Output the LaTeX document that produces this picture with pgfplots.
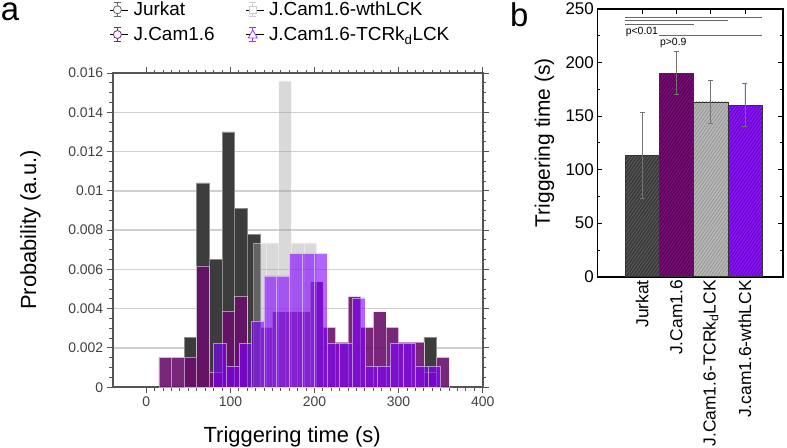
\documentclass[border=0pt]{standalone}
\usepackage{pgfplots}
\pgfplotsset{compat=1.18}
\usepackage{fontspec}
\setmainfont{Liberation Sans}
\usetikzlibrary{patterns.meta}
\definecolor{jur}{HTML}{3C3C3C}
\definecolor{jcam}{HTML}{6A0F6A}
\definecolor{wth}{HTML}{A0A0A0}
\definecolor{tcr}{HTML}{8000FF}
\definecolor{frm}{HTML}{555555}
\definecolor{gridc}{HTML}{CFCFCF}
\definecolor{bJur}{HTML}{3A3A3A}
\definecolor{bJcam}{HTML}{7A0A78}
\definecolor{bGray}{HTML}{B8B8B8}
\definecolor{bVio}{HTML}{8A10FF}
\pgfplotsset{
  errcirc/.style={legend image code/.code={%
    \path (-7bp,0bp) -- (11bp,0bp);
    \draw[color=#1,line width=0.8bp] (0bp,-7bp)--(0bp,7bp) (-3.5bp,7bp)--(3.5bp,7bp) (-3.5bp,-7bp)--(3.5bp,-7bp);
    \draw[color=#1,line width=0.8bp,fill=white] (0bp,0bp) circle (4bp);}},
  errsq/.style={legend image code/.code={%
    \path (-7bp,0bp) -- (11bp,0bp);
    \draw[color=#1,line width=0.8bp] (0bp,-7bp)--(0bp,7bp) (-3.5bp,7bp)--(3.5bp,7bp) (-3.5bp,-7bp)--(3.5bp,-7bp);
    \draw[color=#1,line width=0.8bp,fill=white] (-3.5bp,-3.5bp) rectangle (3.5bp,3.5bp);}},
  errtri/.style={legend image code/.code={%
    \path (-7bp,0bp) -- (11bp,0bp);
    \draw[color=#1,line width=0.8bp] (0bp,-7bp)--(0bp,7bp) (-3.5bp,7bp)--(3.5bp,7bp) (-3.5bp,-7bp)--(3.5bp,-7bp);
    \draw[color=#1,line width=0.8bp,fill=white] (-4.5bp,-3.5bp)--(4.5bp,-3.5bp)--(0bp,4.5bp)--cycle;}},
}
\begin{document}
\begin{tikzpicture}
\useasboundingbox (0bp,0bp) rectangle (787bp,-448bp);
\node[anchor=base west, inner sep=0pt, font=\fontsize{33}{33}\selectfont] at (0.8bp,-20bp) {a};
\node[anchor=base west, inner sep=0pt, font=\fontsize{33}{33}\selectfont] at (510bp,-26.5bp) {b};
\begin{axis}[
  at={(112.7bp,-387.2bp)}, anchor=south west, scale only axis,
  width=370bp, height=314.2bp,
  xmin=-40, xmax=400, ymin=0, ymax=0.016,
  axis line style={draw=frm, line width=1.8bp},
  tick style={draw=frm, line width=1bp},
  tick align=outside, major tick length=6bp, minor tick length=3.5bp,
  xtick={0,100,...,400}, minor x tick num=9,
  ytick={0,0.002,0.004,0.006,0.008,0.01,0.012,0.014,0.016},
  yticklabels={0,0.002,0.004,0.006,0.008,0.01,0.012,0.014,0.016},
  minor y tick num=3,
  scaled y ticks=false,
  ymajorgrids, grid style={draw=gridc, line width=1.4bp},
  tick label style={font=\fontsize{14}{14}\selectfont, text=black!75},
  /pgf/number format/assume math mode=true,
  xlabel={Triggering time (s)}, ylabel={Probability (a.u.)},
  label style={font=\fontsize{22}{22}\selectfont},
  xlabel style={at={(axis description cs:0.485,-0.158)}, anchor=center},
  ylabel style={at={(axis description cs:-0.222,0.5)}, anchor=center},
  legend columns=2, legend cell align=left,
  legend style={draw=none, fill=none, at={(axis description cs:-0.0073,1.2323)}, anchor=north west,
    font=\fontsize{19}{19}\selectfont, inner sep=0pt, row sep=5.5bp,
    nodes={inner xsep=5bp, inner ysep=2bp},
    /tikz/every even column/.append style={column sep=26bp}},
]
\addlegendimage{errcirc=black!60}
\addlegendentry{Jurkat}
\addlegendimage{errsq=black!20}
\addlegendentry{J.Cam1.6-wthLCK}
\addlegendimage{errcirc=jcam!90}
\addlegendentry{J.Cam1.6}
\addlegendimage{errtri=tcr!80}
\addlegendentry{J.Cam1.6-TCRk\textsubscript{d}LCK}
% Jurkat
\addplot[forget plot, ybar, bar width=15, bar shift=0pt, fill=jur, draw=black!45, line width=0.6bp] coordinates {
(52.5,0.00255) (67.5,0.0104) (82.5,0.0065) (97.5,0.0130) (112.5,0.0091) (127.5,0.0078) (337.5,0.00255)};
% J.Cam1.6
\addplot[forget plot, ybar, bar width=15, bar shift=0pt, fill=jcam, fill opacity=0.9, draw=white, draw opacity=0.5, line width=0.6bp] coordinates {
(22.5,0.00152) (37.5,0.00152) (52.5,0.00152) (67.5,0.00617) (82.5,0.00076) (97.5,0.00384) (112.5,0.00461)
(142.5,0.00305) (157.5,0.00384) (172.5,0.00384) (187.5,0.00384) (202.5,0.00537) (217.5,0.00305)
(232.5,0.00230) (247.5,0.00461) (262.5,0.00305) (277.5,0.00384) (292.5,0.00305) (307.5,0.00230)
(322.5,0.00230) (337.5,0.00076) (352.5,0.00152)};
% J.Cam1.6-wthLCK
\addplot[forget plot, ybar, bar width=15, bar shift=0pt, fill=wth, fill opacity=0.4, draw=white, draw opacity=0.4, line width=0.6bp] coordinates {
(135,0.00735) (150,0.00735) (165,0.0156) (180,0.00735) (195,0.00735)};
% J.Cam1.6-TCRkdLCK
\addplot[forget plot, ybar, bar width=15, bar shift=0pt, fill=tcr, fill opacity=0.6, draw=white, draw opacity=0.5, line width=0.6bp] coordinates {
(87.5,0.00223) (102.5,0.00109) (117.5,0.00223) (132.5,0.00338) (147.5,0.00567) (162.5,0.00567)
(177.5,0.00681) (192.5,0.00681) (207.5,0.00681) (222.5,0.00223) (237.5,0.00223) (252.5,0.00455)
(267.5,0.00109) (282.5,0.00109) (297.5,0.00223) (312.5,0.00223) (327.5,0.00109) (342.5,0.00109)};
\end{axis}

\begin{axis}[
  at={(597.3bp,-276.7bp)}, anchor=south west, scale only axis,
  width=185.7bp, height=268bp,
  xmin=-1.31, xmax=4.11, ymin=0, ymax=250,
  axis line style={line width=1.6bp},
  tick style={line width=0.8bp, draw=black},
  tick align=inside, major tick length=5bp, minor tick length=3bp,
  ytick={0,50,...,250}, minor y tick num=1,
  xtick={0,1,2,3},
  xticklabels={Jurkat,J.Cam1.6,J.Cam1.6-TCRk\textsubscript{d}LCK,J.cam1.6-wthLCK},
  x tick label style={rotate=90, anchor=east, font=\fontsize{17.5}{17.5}\selectfont},
  y tick label style={font=\fontsize{17}{17}\selectfont},
  /pgf/number format/assume math mode=true,
  ylabel={Triggering time (s)},
  ylabel style={font=\fontsize{21}{21}\selectfont, at={(axis description cs:-0.285,0.5)}, anchor=center},
  error bars/error bar style={line width=0.6bp, draw=black!55},
  error bars/error mark options={rotate=90, mark size=2.5bp, line width=0.6bp, draw=black!55},
]
\addplot[ybar, bar width=1, bar shift=0pt, fill=bJur, draw=black!80, line width=0.6bp,
  postaction={pattern={Lines[angle=55,distance=2.6bp,line width=0.6bp]}, pattern color=black!60},
  error bars/.cd, y dir=both, y explicit] coordinates {(0,113) +- (0,40)};
\addplot[ybar, bar width=1, bar shift=0pt, fill=bJcam, draw=black!80, line width=0.6bp,
  postaction={pattern={Lines[angle=55,distance=2.6bp,line width=0.6bp]}, pattern color=black!45!bJcam},
  error bars/.cd, y dir=both, y explicit] coordinates {(1,190) +- (0,20)};
\addplot[ybar, bar width=1, bar shift=0pt, fill=bGray, draw=black!80, line width=0.6bp,
  postaction={pattern={Lines[angle=55,distance=2.6bp,line width=0.6bp]}, pattern color=black!45},
  error bars/.cd, y dir=both, y explicit] coordinates {(2,163) +- (0,20)};
\addplot[ybar, bar width=1, bar shift=0pt, fill=bVio, draw=black!80, line width=0.6bp,
  postaction={pattern={Lines[angle=55,distance=2.6bp,line width=0.6bp]}, pattern color=black!40!bVio},
  error bars/.cd, y dir=both, y explicit] coordinates {(3,160) +- (0,20)};
\draw[black!60, line width=0.8bp] (axis cs:-0.5,242) -- (axis cs:3.5,242);
\draw[black!60, line width=0.8bp] (axis cs:-0.5,238.8) -- (axis cs:2.5,238.8);
\draw[black!60, line width=0.8bp] (axis cs:-0.5,235.4) -- (axis cs:1.5,235.4);
\draw[black!60, line width=0.8bp] (axis cs:0.5,224.8) -- (axis cs:3.5,224.8);
\node[anchor=north west, inner sep=0.5bp, font=\fontsize{10.5}{10.5}\selectfont] at (axis cs:-0.5,233.5) {p<0.01};
\node[anchor=north west, inner sep=0.5bp, font=\fontsize{10.5}{10.5}\selectfont] at (axis cs:0.5,223) {p>0.9};
\end{axis}
\end{tikzpicture}
\end{document}
